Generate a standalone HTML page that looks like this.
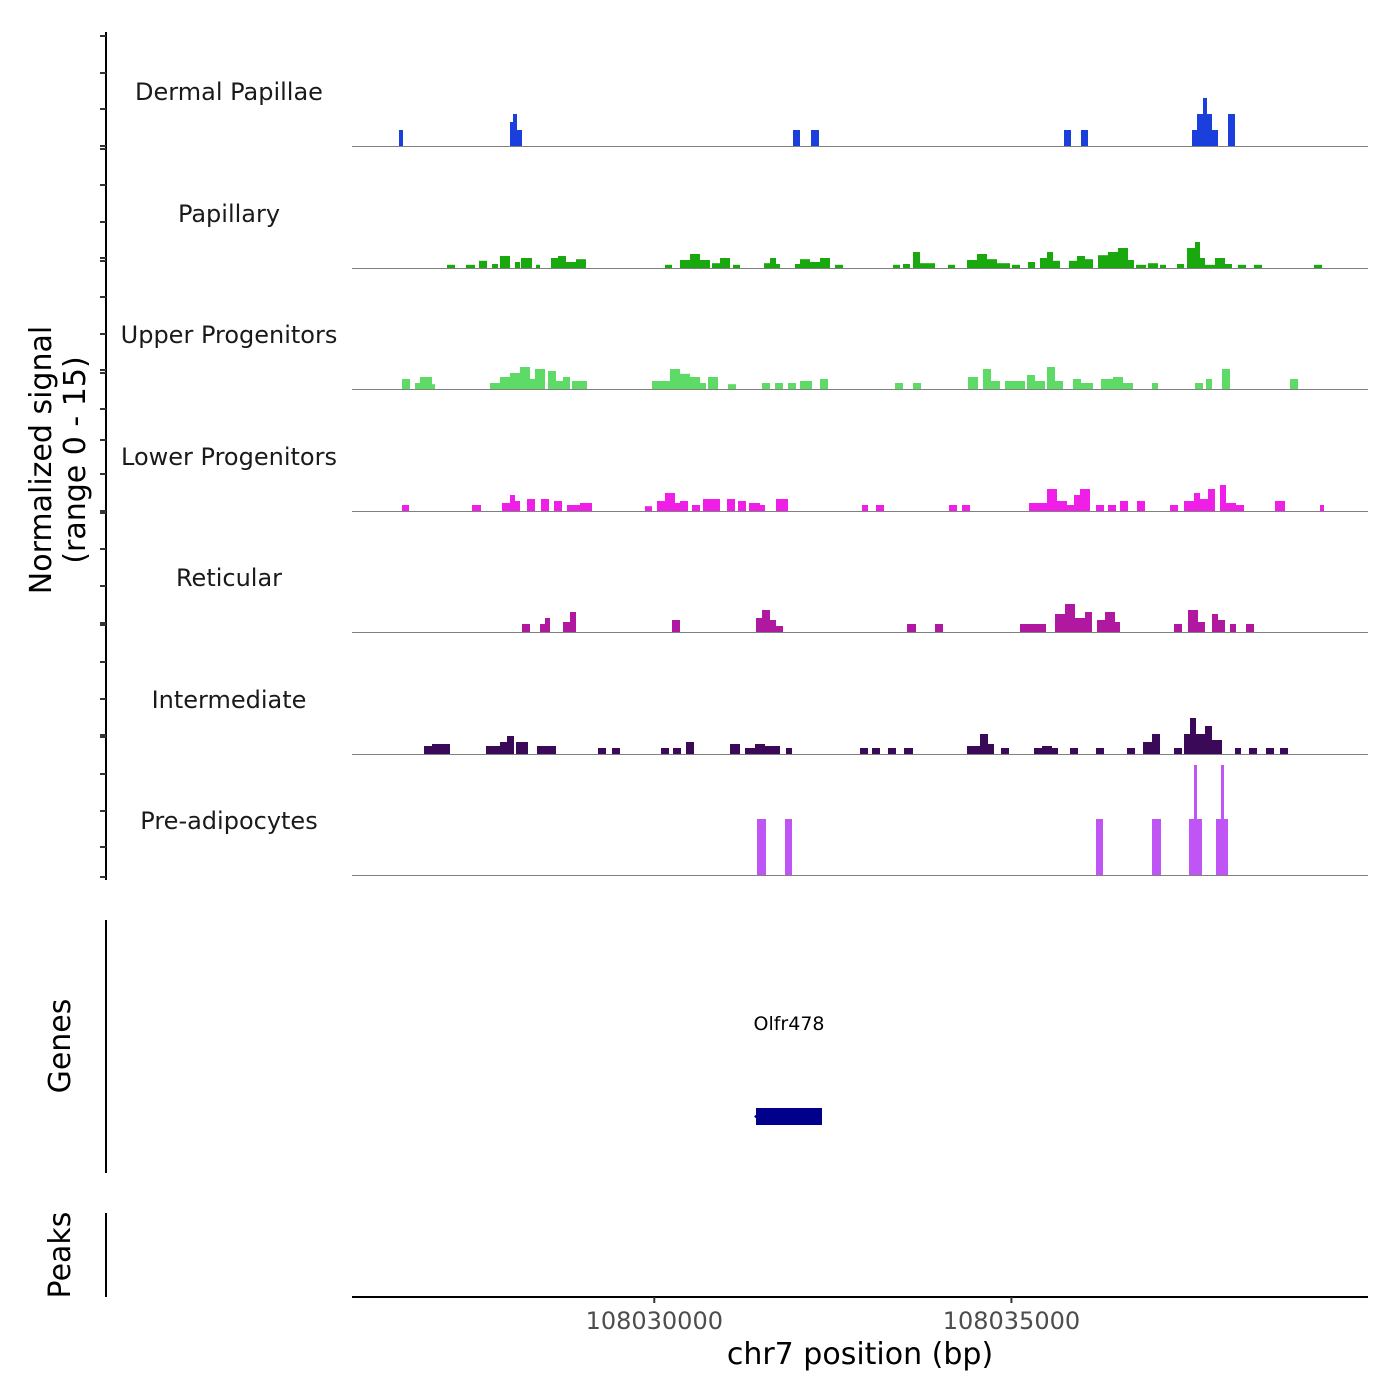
<!DOCTYPE html>
<html><head><meta charset="utf-8">
<style>
html,body{margin:0;padding:0;background:#fff;}
svg{display:block;font-family:"DejaVu Sans","Liberation Sans",sans-serif;}
</style></head>
<body>
<svg id="chart" width="1400" height="1400" viewBox="0 0 1400 1400" xmlns="http://www.w3.org/2000/svg">
  <rect x="0" y="0" width="1400" height="1400" fill="#fff"/>
  <g id="tracks"></g>
  <g id="yaxis">
    <line x1="106" y1="32" x2="106" y2="880" stroke="#000" stroke-width="2"/>
  </g>
  <text x="53" y="460" font-size="30" text-anchor="middle" transform="rotate(-90 53 460)" fill="#000"><tspan x="53" dy="-2">Normalized signal</tspan><tspan x="53" dy="34">(range 0 - 15)</tspan></text>
  <line x1="106" y1="920" x2="106" y2="1173" stroke="#000" stroke-width="2"/>
  <text x="70" y="1046" font-size="30" text-anchor="middle" transform="rotate(-90 70 1046)">Genes</text>
  <line x1="106" y1="1213" x2="106" y2="1297" stroke="#000" stroke-width="2"/>
  <text x="70" y="1255" font-size="30" text-anchor="middle" transform="rotate(-90 70 1255)">Peaks</text>
  <g id="genes"></g>
  <g id="xaxis">
    <line x1="352" y1="1297" x2="1368" y2="1297" stroke="#000" stroke-width="2"/>
  </g>
  <text x="860" y="1364" font-size="30" text-anchor="middle" fill="#000">chr7 position (bp)</text>
</svg>
<script>
const regionStart = 108025768;
const regionEnd = 108039992;
const trackNames = ["Dermal Papillae","Papillary","Upper Progenitors","Lower Progenitors","Reticular","Intermediate","Pre-adipocytes"];
const trackColors = ["#1a3fdc","#1aa80f","#5edb66","#f01fe8","#b0189f","#3a0a59","#c055f5"];
const xTickValues = [108030000,108035000];
const xTickLabels = ["108030000","108035000"];
const yTickPixels = [36,73,109,146,149,185,222,258,261,297,334,370,373,409,440,474,511,513,549,586,623,625,662,699,735,737,774,811,847,877];
// segments: [start offset bp, end offset bp, signal]
const dermalPapillae = [[658,714,2],[2212,2254,3],[2254,2310,4],[2310,2380,2],[6174,6272,2],[6426,6538,2],[9968,10066,2],[10206,10304,2],[11760,11830,2],[11830,11914,4],[11914,11970,6],[11970,12040,4],[12040,12124,2],[12264,12362,4]];
const papillary = [[1330,1442,0.4],[1596,1722,0.4],[1778,1890,0.9],[1960,2044,0.5],[2072,2212,1.5],[2282,2352,0.75],[2366,2520,1.25],[2576,2632,0.4],[2786,2884,1.25],[2884,2996,1.5],[2996,3136,0.75],[3136,3276,1.1],[4382,4480,0.4],[4592,4732,1],[4732,4872,1.75],[4872,5012,1],[5040,5152,0.6],[5152,5292,1.25],[5334,5432,0.4],[5768,5852,0.6],[5852,5936,1.25],[5936,5992,0.5],[6202,6272,0.5],[6272,6412,1.1],[6412,6552,0.75],[6552,6692,1.25],[6762,6874,0.4],[7574,7672,0.4],[7714,7812,0.5],[7854,7952,2],[7952,8162,0.6],[8344,8442,0.4],[8610,8750,1],[8750,8890,1.75],[8890,9030,1.1],[9030,9212,0.6],[9240,9352,0.4],[9464,9562,0.75],[9632,9730,1.25],[9730,9814,2],[9814,9912,0.9],[10038,10150,0.9],[10150,10262,1.5],[10262,10374,1.1],[10444,10584,1.6],[10584,10724,2],[10724,10864,2.5],[10864,10948,1],[10976,11116,0.4],[11144,11284,0.6],[11312,11396,0.4],[11550,11648,0.5],[11690,11802,2.5],[11802,11872,3.25],[11872,11942,1.25],[11942,12082,0.4],[12082,12222,1.25],[12222,12320,0.5],[12404,12516,0.4],[12628,12740,0.4],[13468,13580,0.4]];
const upperProgenitors = [[700,812,1.25],[882,952,0.75],[952,1120,1.5],[1120,1162,0.6],[1932,2072,0.75],[2072,2212,1.5],[2212,2352,2],[2352,2492,2.75],[2492,2562,1.25],[2562,2702,2.5],[2744,2856,2.25],[2856,2954,1],[2954,3052,1.5],[3080,3290,1],[4200,4452,1],[4452,4592,2.5],[4592,4732,1.9],[4732,4872,1.5],[4872,4956,0.75],[4984,5124,1.5],[5264,5376,0.6],[5740,5852,0.75],[5922,6034,0.75],[6104,6216,0.75],[6272,6440,1],[6552,6664,1.25],[7602,7714,0.75],[7854,7966,0.75],[8624,8764,1.5],[8834,8946,2.5],[8946,9072,1],[9142,9282,1],[9282,9422,1],[9450,9562,1.75],[9562,9702,1],[9730,9842,2.75],[9842,9954,1],[10094,10206,1.25],[10206,10374,0.75],[10486,10654,1.25],[10654,10794,1.5],[10794,10934,0.75],[11200,11284,0.75],[11802,11914,0.75],[11956,12040,1.25],[12180,12292,2.5],[13132,13244,1.25]];
const lowerProgenitors = [[700,798,0.75],[1680,1806,0.75],[2100,2212,1],[2212,2282,2],[2282,2352,1.25],[2450,2562,1.5],[2646,2758,1.5],[2828,2940,1.25],[3010,3192,0.75],[3192,3360,1],[4102,4200,0.6],[4270,4382,1.25],[4382,4522,2.25],[4522,4592,1],[4592,4704,1.25],[4760,4872,0.75],[4914,5152,1.5],[5250,5362,1.5],[5404,5516,1.25],[5558,5712,1],[5712,5782,0.75],[5936,6104,1.5],[7140,7224,0.75],[7336,7448,0.75],[8358,8470,0.75],[8540,8652,0.75],[9478,9730,1],[9730,9870,2.75],[9870,10010,1.25],[10010,10108,0.75],[10108,10192,2],[10192,10332,2.75],[10416,10528,0.75],[10584,10696,0.75],[10752,10864,1.25],[10990,11102,1.25],[11452,11564,0.75],[11648,11788,1.25],[11788,11872,2.25],[11872,11984,1.5],[11984,12082,2.75],[12152,12236,3.25],[12236,12376,1],[12376,12488,0.75],[12922,13062,1.25],[13552,13608,0.75]];
const reticular = [[2380,2492,1],[2632,2702,1],[2702,2772,1.75],[2954,3052,1.25],[3052,3136,2.5],[4480,4592,1.5],[5656,5740,1.75],[5740,5852,2.75],[5852,5936,1.5],[5936,6034,0.75],[7770,7896,1],[8162,8274,1],[9352,9492,1],[9492,9716,1],[9842,9982,2.25],[9982,10122,3.5],[10122,10262,1.75],[10262,10360,2.5],[10430,10542,1.5],[10542,10682,2.5],[10682,10752,1.25],[11508,11620,1],[11704,11844,2.75],[11844,11942,1.25],[12040,12124,2.25],[12124,12222,1.5],[12292,12376,1],[12516,12628,1]];
const intermediate = [[1008,1120,1],[1120,1372,1.25],[1876,2072,1],[2072,2170,1.5],[2170,2268,2.25],[2296,2464,1.5],[2590,2856,1],[3444,3556,0.75],[3640,3752,0.75],[4326,4438,0.75],[4494,4606,0.75],[4676,4788,1.5],[5292,5432,1.25],[5502,5642,0.75],[5642,5782,1.25],[5782,5992,1],[6076,6160,0.75],[7112,7224,0.75],[7280,7392,0.75],[7504,7616,0.75],[7728,7854,0.75],[8610,8792,1],[8792,8904,2.5],[8904,8988,1.25],[9086,9198,0.75],[9548,9660,0.75],[9660,9800,1],[9800,9884,0.75],[10052,10164,0.75],[10416,10528,0.75],[10850,10962,0.75],[11074,11200,1.5],[11200,11312,2.5],[11508,11620,0.75],[11648,11732,2.5],[11732,11816,4.5],[11816,11942,2.5],[11942,12040,3.5],[12040,12180,1.75],[12362,12446,0.75],[12558,12670,0.75],[12796,12908,0.75],[12992,13104,0.75]];
const preAdipocytes = [[5670,5796,7],[6062,6160,7],[10416,10514,7],[11200,11326,7],[11718,11788,7],[11788,11830,13.75],[11830,11900,7],[12096,12166,7],[12166,12208,13.75],[12208,12264,7]];
const trackData = [dermalPapillae,papillary,upperProgenitors,lowerProgenitors,reticular,intermediate,preAdipocytes];
const geneNames = ["Olfr478"];
const geneStarts = [5656];
const geneEnds = [6580];

const X0 = 352, X1 = 1368;
function xScale(offset){ return X0 + (offset) / (regionEnd - regionStart) * (X1 - X0); }
function xGenomic(pos){ return xScale(pos - regionStart); }
const baselines = [146,268,389,511,632,754,875];
function yScale(v, ti){ return baselines[ti] - v * 8; }

const NS = "http://www.w3.org/2000/svg";
function mk(tag, attrs, parent){
  const el = document.createElementNS(NS, tag);
  for (const k in attrs) el.setAttribute(k, attrs[k]);
  parent.appendChild(el);
  return el;
}
const tracksG = document.getElementById('tracks');
trackNames.forEach((name, ti) => {
  const g = mk('g', {}, tracksG);
  
  
  const label = mk('text', {x:229, y:baselines[ti]-46, 'font-size':24, 'text-anchor':'middle', fill:'#1a1a1a'}, g);
  label.textContent = name;
  
  
  trackData[ti].forEach(seg => {
    const xa = xScale(seg[0]), xb = xScale(seg[1]);
    const yt = yScale(seg[2], ti);
    const r = mk('rect', {x:xa.toFixed(2), y:yt.toFixed(2), width:(xb-xa).toFixed(2), height:(baselines[ti]-yt).toFixed(2), fill:trackColors[ti]}, g);
    
    
  });
  const bl = mk('line', {x1:X0, x2:X1, y1:baselines[ti]+0.5, y2:baselines[ti]+0.5, stroke:'#808080', 'stroke-width':1}, g);
  
  
});

const yaxis = document.getElementById('yaxis');
yTickPixels.forEach(y => {
  const t = mk('line', {x1:100, x2:106, y1:y, y2:y, stroke:'#333', 'stroke-width':2}, yaxis);
  
  
});

const genesG = document.getElementById('genes');
geneNames.forEach((gname, i) => {
  const xa = xScale(geneStarts[i]), xb = xScale(geneEnds[i]);
  const r = mk('rect', {x:xa, y:1108, width:xb-xa, height:17, fill:'#00008b'}, genesG);
  
  
  const a = mk('path', {d:`M${xa-2} 1116.5 L${xa+3} 1112 L${xa+3} 1121 Z`, fill:'#00008b'}, genesG);
  
  
  const t = mk('text', {x:(xa+xb)/2, y:1030, 'font-size':19, 'text-anchor':'middle', fill:'#000'}, genesG);
  t.textContent = gname;
  
  
});

const xaxis = document.getElementById('xaxis');
xTickValues.forEach((v, i) => {
  const x = xGenomic(v);
  const t = mk('line', {x1:x, x2:x, y1:1297, y2:1303, stroke:'#333', 'stroke-width':2}, xaxis);
  
  
  const l = mk('text', {x:x, y:1329, 'font-size':24, 'text-anchor':'middle', fill:'#4d4d4d'}, xaxis);
  l.textContent = xTickLabels[i];
  
  
});
</script>
</body></html>
